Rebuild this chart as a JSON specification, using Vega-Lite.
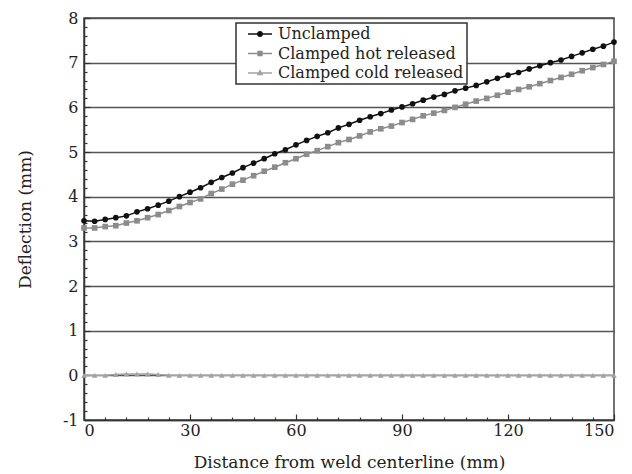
{
  "$schema": "https://vega.github.io/schema/vega-lite/v6.json",
  "width": 530,
  "height": 402,
  "autosize": "none",
  "padding": {"left": 84, "top": 18, "right": 18, "bottom": 54},
  "background": "white",
  "config": {
    "font": "DejaVu Serif",
    "view": {"stroke": "#444", "strokeWidth": 1.5},
    "axis": {
      "labelFont": "DejaVu Serif",
      "titleFont": "DejaVu Serif",
      "labelFontSize": 16,
      "titleFontSize": 17,
      "labelColor": "#222",
      "titleColor": "#222",
      "titleFontWeight": "normal",
      "domainColor": "#333",
      "domainWidth": 1.5,
      "tickColor": "#333",
      "tickWidth": 1.2,
      "gridColor": "#555",
      "gridWidth": 1.5
    },
    "legend": {
      "padding": 3,
      "fillColor": "white",
      "strokeColor": "#333",
      "strokeWidth": 1.5,
      "cornerRadius": 0,
      "labelFont": "DejaVu Serif",
      "labelFontSize": 16,
      "labelColor": "#222",
      "labelLimit": 400,
      "symbolSize": 100,
      "symbolOffset": 13,
      "labelOffset": 10,
      "rowPadding": 3.5,
      "symbolStrokeWidth": 1.3,
      "symbolOpacity": 1
    }
  },
  "datasets": {
    "d": [
      {"x": 0, "y": 3.46, "s": "Unclamped"}, {"x": 3, "y": 3.45, "s": "Unclamped"}, {"x": 6, "y": 3.49, "s": "Unclamped"}, {"x": 9, "y": 3.53, "s": "Unclamped"}, {"x": 12, "y": 3.57, "s": "Unclamped"}, {"x": 15, "y": 3.66, "s": "Unclamped"}, {"x": 18, "y": 3.73, "s": "Unclamped"}, {"x": 21, "y": 3.81, "s": "Unclamped"}, {"x": 24, "y": 3.9, "s": "Unclamped"}, {"x": 27, "y": 4.0, "s": "Unclamped"}, {"x": 30, "y": 4.1, "s": "Unclamped"}, {"x": 33, "y": 4.2, "s": "Unclamped"}, {"x": 36, "y": 4.32, "s": "Unclamped"}, {"x": 39, "y": 4.43, "s": "Unclamped"}, {"x": 42, "y": 4.53, "s": "Unclamped"}, {"x": 45, "y": 4.65, "s": "Unclamped"}, {"x": 48, "y": 4.75, "s": "Unclamped"}, {"x": 51, "y": 4.85, "s": "Unclamped"}, {"x": 54, "y": 4.96, "s": "Unclamped"}, {"x": 57, "y": 5.05, "s": "Unclamped"}, {"x": 60, "y": 5.16, "s": "Unclamped"}, {"x": 63, "y": 5.26, "s": "Unclamped"}, {"x": 66, "y": 5.35, "s": "Unclamped"}, {"x": 69, "y": 5.43, "s": "Unclamped"}, {"x": 72, "y": 5.54, "s": "Unclamped"}, {"x": 75, "y": 5.62, "s": "Unclamped"}, {"x": 78, "y": 5.71, "s": "Unclamped"}, {"x": 81, "y": 5.79, "s": "Unclamped"}, {"x": 84, "y": 5.86, "s": "Unclamped"}, {"x": 87, "y": 5.94, "s": "Unclamped"}, {"x": 90, "y": 6.01, "s": "Unclamped"}, {"x": 93, "y": 6.08, "s": "Unclamped"}, {"x": 96, "y": 6.16, "s": "Unclamped"}, {"x": 99, "y": 6.23, "s": "Unclamped"}, {"x": 102, "y": 6.29, "s": "Unclamped"}, {"x": 105, "y": 6.37, "s": "Unclamped"}, {"x": 108, "y": 6.43, "s": "Unclamped"}, {"x": 111, "y": 6.49, "s": "Unclamped"}, {"x": 114, "y": 6.57, "s": "Unclamped"}, {"x": 117, "y": 6.65, "s": "Unclamped"}, {"x": 120, "y": 6.72, "s": "Unclamped"}, {"x": 123, "y": 6.78, "s": "Unclamped"}, {"x": 126, "y": 6.86, "s": "Unclamped"}, {"x": 129, "y": 6.93, "s": "Unclamped"}, {"x": 132, "y": 7.0, "s": "Unclamped"}, {"x": 135, "y": 7.06, "s": "Unclamped"}, {"x": 138, "y": 7.14, "s": "Unclamped"}, {"x": 141, "y": 7.22, "s": "Unclamped"}, {"x": 144, "y": 7.3, "s": "Unclamped"}, {"x": 147, "y": 7.37, "s": "Unclamped"}, {"x": 150, "y": 7.46, "s": "Unclamped"},
      {"x": 0, "y": 3.3, "s": "Clamped hot released"}, {"x": 3, "y": 3.3, "s": "Clamped hot released"}, {"x": 6, "y": 3.33, "s": "Clamped hot released"}, {"x": 9, "y": 3.35, "s": "Clamped hot released"}, {"x": 12, "y": 3.41, "s": "Clamped hot released"}, {"x": 15, "y": 3.46, "s": "Clamped hot released"}, {"x": 18, "y": 3.53, "s": "Clamped hot released"}, {"x": 21, "y": 3.6, "s": "Clamped hot released"}, {"x": 24, "y": 3.69, "s": "Clamped hot released"}, {"x": 27, "y": 3.78, "s": "Clamped hot released"}, {"x": 30, "y": 3.87, "s": "Clamped hot released"}, {"x": 33, "y": 3.95, "s": "Clamped hot released"}, {"x": 36, "y": 4.07, "s": "Clamped hot released"}, {"x": 39, "y": 4.17, "s": "Clamped hot released"}, {"x": 42, "y": 4.28, "s": "Clamped hot released"}, {"x": 45, "y": 4.37, "s": "Clamped hot released"}, {"x": 48, "y": 4.47, "s": "Clamped hot released"}, {"x": 51, "y": 4.57, "s": "Clamped hot released"}, {"x": 54, "y": 4.66, "s": "Clamped hot released"}, {"x": 57, "y": 4.76, "s": "Clamped hot released"}, {"x": 60, "y": 4.85, "s": "Clamped hot released"}, {"x": 63, "y": 4.95, "s": "Clamped hot released"}, {"x": 66, "y": 5.03, "s": "Clamped hot released"}, {"x": 69, "y": 5.12, "s": "Clamped hot released"}, {"x": 72, "y": 5.21, "s": "Clamped hot released"}, {"x": 75, "y": 5.28, "s": "Clamped hot released"}, {"x": 78, "y": 5.36, "s": "Clamped hot released"}, {"x": 81, "y": 5.45, "s": "Clamped hot released"}, {"x": 84, "y": 5.52, "s": "Clamped hot released"}, {"x": 87, "y": 5.58, "s": "Clamped hot released"}, {"x": 90, "y": 5.66, "s": "Clamped hot released"}, {"x": 93, "y": 5.73, "s": "Clamped hot released"}, {"x": 96, "y": 5.81, "s": "Clamped hot released"}, {"x": 99, "y": 5.87, "s": "Clamped hot released"}, {"x": 102, "y": 5.93, "s": "Clamped hot released"}, {"x": 105, "y": 6.0, "s": "Clamped hot released"}, {"x": 108, "y": 6.07, "s": "Clamped hot released"}, {"x": 111, "y": 6.14, "s": "Clamped hot released"}, {"x": 114, "y": 6.2, "s": "Clamped hot released"}, {"x": 117, "y": 6.27, "s": "Clamped hot released"}, {"x": 120, "y": 6.34, "s": "Clamped hot released"}, {"x": 123, "y": 6.4, "s": "Clamped hot released"}, {"x": 126, "y": 6.46, "s": "Clamped hot released"}, {"x": 129, "y": 6.53, "s": "Clamped hot released"}, {"x": 132, "y": 6.6, "s": "Clamped hot released"}, {"x": 135, "y": 6.67, "s": "Clamped hot released"}, {"x": 138, "y": 6.74, "s": "Clamped hot released"}, {"x": 141, "y": 6.82, "s": "Clamped hot released"}, {"x": 144, "y": 6.89, "s": "Clamped hot released"}, {"x": 147, "y": 6.96, "s": "Clamped hot released"}, {"x": 150, "y": 7.03, "s": "Clamped hot released"},
      {"x": 0, "y": 0, "s": "Clamped cold released"}, {"x": 3, "y": 0, "s": "Clamped cold released"}, {"x": 6, "y": 0, "s": "Clamped cold released"}, {"x": 9, "y": 0.02, "s": "Clamped cold released"}, {"x": 12, "y": 0.03, "s": "Clamped cold released"}, {"x": 15, "y": 0.03, "s": "Clamped cold released"}, {"x": 18, "y": 0.03, "s": "Clamped cold released"}, {"x": 21, "y": 0.02, "s": "Clamped cold released"}, {"x": 24, "y": 0, "s": "Clamped cold released"}, {"x": 27, "y": 0, "s": "Clamped cold released"}, {"x": 30, "y": 0, "s": "Clamped cold released"}, {"x": 33, "y": 0, "s": "Clamped cold released"}, {"x": 36, "y": 0, "s": "Clamped cold released"}, {"x": 39, "y": 0, "s": "Clamped cold released"}, {"x": 42, "y": 0, "s": "Clamped cold released"}, {"x": 45, "y": 0, "s": "Clamped cold released"}, {"x": 48, "y": 0, "s": "Clamped cold released"}, {"x": 51, "y": 0, "s": "Clamped cold released"}, {"x": 54, "y": 0, "s": "Clamped cold released"}, {"x": 57, "y": 0, "s": "Clamped cold released"}, {"x": 60, "y": 0, "s": "Clamped cold released"}, {"x": 63, "y": 0, "s": "Clamped cold released"}, {"x": 66, "y": 0, "s": "Clamped cold released"}, {"x": 69, "y": 0, "s": "Clamped cold released"}, {"x": 72, "y": 0, "s": "Clamped cold released"}, {"x": 75, "y": 0, "s": "Clamped cold released"}, {"x": 78, "y": 0, "s": "Clamped cold released"}, {"x": 81, "y": 0, "s": "Clamped cold released"}, {"x": 84, "y": 0, "s": "Clamped cold released"}, {"x": 87, "y": 0, "s": "Clamped cold released"}, {"x": 90, "y": 0, "s": "Clamped cold released"}, {"x": 93, "y": 0, "s": "Clamped cold released"}, {"x": 96, "y": 0, "s": "Clamped cold released"}, {"x": 99, "y": 0, "s": "Clamped cold released"}, {"x": 102, "y": 0, "s": "Clamped cold released"}, {"x": 105, "y": 0, "s": "Clamped cold released"}, {"x": 108, "y": 0, "s": "Clamped cold released"}, {"x": 111, "y": 0, "s": "Clamped cold released"}, {"x": 114, "y": 0, "s": "Clamped cold released"}, {"x": 117, "y": 0, "s": "Clamped cold released"}, {"x": 120, "y": 0, "s": "Clamped cold released"}, {"x": 123, "y": 0, "s": "Clamped cold released"}, {"x": 126, "y": 0, "s": "Clamped cold released"}, {"x": 129, "y": 0, "s": "Clamped cold released"}, {"x": 132, "y": 0, "s": "Clamped cold released"}, {"x": 135, "y": 0, "s": "Clamped cold released"}, {"x": 138, "y": 0, "s": "Clamped cold released"}, {"x": 141, "y": 0, "s": "Clamped cold released"}, {"x": 144, "y": 0, "s": "Clamped cold released"}, {"x": 147, "y": 0, "s": "Clamped cold released"}, {"x": 150, "y": 0, "s": "Clamped cold released"}
    ]
  },
  "data": {"name": "d"},
  "encoding": {
    "x": {
      "field": "x", "type": "quantitative",
      "scale": {"domain": [0, 150], "nice": false},
      "axis": {
        "title": "Distance from weld centerline (mm)",
        "values": [0, 6, 12, 18, 24, 30, 36, 42, 48, 54, 60, 66, 72, 78, 84, 90, 96, 102, 108, 114, 120, 126, 132, 138, 144, 150],
        "labelExpr": "datum.value % 30 === 0 ? toString(datum.value) : ''",
        "tickSize": {"condition": {"test": "datum.value % 30 === 0", "value": -6}, "value": -3},
        "grid": false,
        "labelPadding": 8,
        "titlePadding": 16
      }
    },
    "y": {
      "field": "y", "type": "quantitative",
      "scale": {"domain": [-1, 8], "nice": false},
      "axis": {
        "title": "Deflection (mm)",
        "values": [-1, -0.8, -0.6, -0.4, -0.2, 0, 0.2, 0.4, 0.6, 0.8, 1, 1.2, 1.4, 1.6, 1.8, 2, 2.2, 2.4, 2.6, 2.8, 3, 3.2, 3.4, 3.6, 3.8, 4, 4.2, 4.4, 4.6, 4.8, 5, 5.2, 5.4, 5.6, 5.8, 6, 6.2, 6.4, 6.6, 6.8, 7, 7.2, 7.4, 7.6, 7.8, 8],
        "labelExpr": "abs(datum.value - round(datum.value)) < 0.001 ? toString(round(datum.value)) : ''",
        "tickSize": {"condition": {"test": "abs(datum.value - round(datum.value)) < 0.001", "value": -6}, "value": -3},
        "grid": true,
        "gridOpacity": {"condition": {"test": "abs(datum.value - round(datum.value)) < 0.001", "value": 1}, "value": 0},
        "labelPadding": 12,
        "titlePadding": 28
      }
    }
  },
  "resolve": {"scale": {"shape": "independent", "fill": "independent", "stroke": "independent"}},
  "layer": [
    {
      "mark": {"type": "line", "strokeWidth": 1.5},
      "encoding": {
        "color": {
          "field": "s", "type": "nominal",
          "scale": {"domain": ["Unclamped", "Clamped hot released", "Clamped cold released"], "range": ["#111111", "#8c8c8c", "#a3a3a3"]},
          "legend": null
        }
      }
    },
    {
      "mark": {"type": "point", "filled": true, "opacity": 1, "size": 32},
      "encoding": {
        "color": {
          "field": "s", "type": "nominal",
          "scale": {"domain": ["Unclamped", "Clamped hot released", "Clamped cold released"], "range": ["#111111", "#8c8c8c", "#999999"]},
          "legend": null
        },
        "shape": {
          "field": "s", "type": "nominal",
          "scale": {"domain": ["Unclamped", "Clamped hot released", "Clamped cold released"], "range": ["circle", "square", "triangle-up"]},
          "legend": null
        }
      }
    },
    {
      "mark": {"type": "point", "filled": true, "opacity": 0},
      "encoding": {
        "fill": {
          "field": "s", "type": "nominal",
          "scale": {"domain": ["Unclamped", "Clamped hot released", "Clamped cold released"], "range": ["#111111", "#8c8c8c", "#a3a3a3"]},
          "legend": {"title": null, "orient": "none", "legendX": 152, "legendY": 5}
        },
        "stroke": {
          "field": "s", "type": "nominal",
          "scale": {"domain": ["Unclamped", "Clamped hot released", "Clamped cold released"], "range": ["#111111", "#8c8c8c", "#a3a3a3"]},
          "legend": {"title": null, "orient": "none", "legendX": 152, "legendY": 5}
        },
        "shape": {
          "field": "s", "type": "nominal",
          "scale": {"domain": ["Unclamped", "Clamped hot released", "Clamped cold released"], "range": ["M-2.4,0H2.4M0.45,0A0.45,0.45,0,1,1,-0.45,0A0.45,0.45,0,1,1,0.45,0Z", "M-2.4,0H2.4M-0.4,-0.4H0.4V0.4H-0.4Z", "M-2.4,0H2.4M0,-0.5L0.45,0.32H-0.45Z"]},
          "legend": {"title": null, "orient": "none", "legendX": 152, "legendY": 5}
        }
      }
    }
  ]
}
